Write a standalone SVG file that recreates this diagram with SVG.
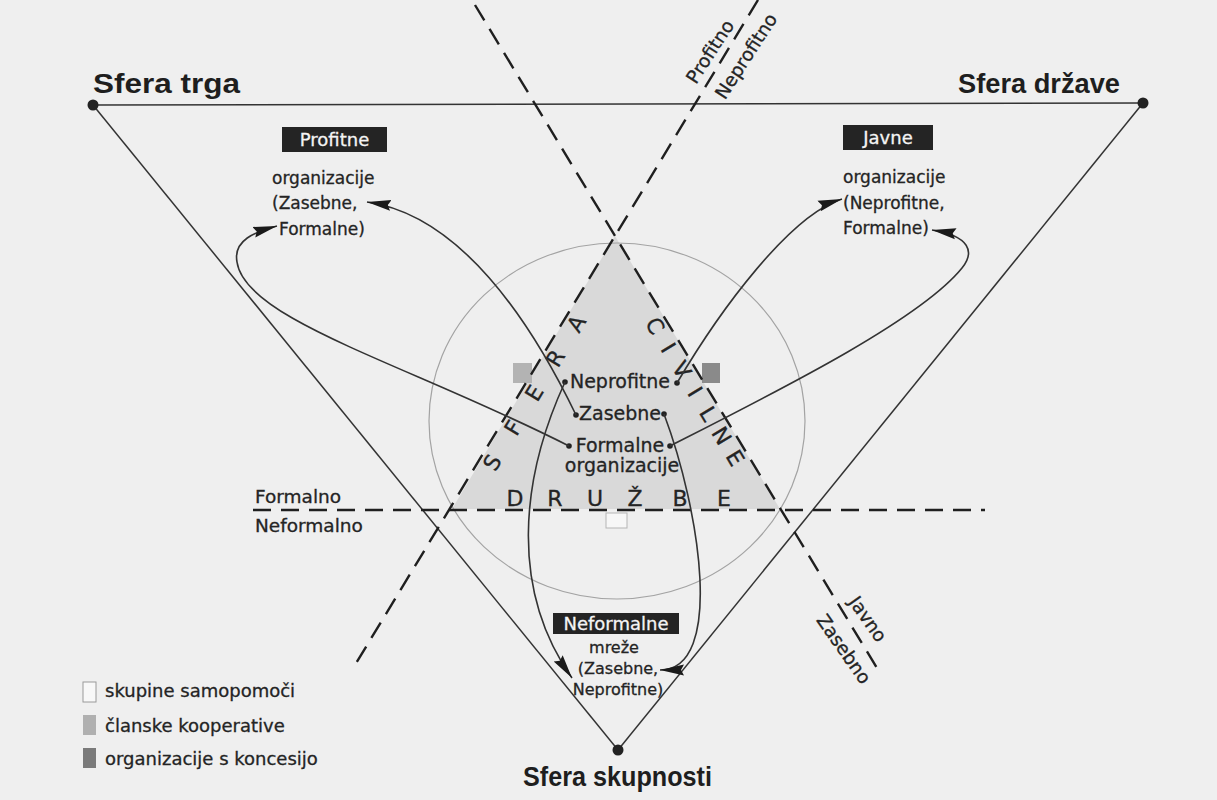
<svg xmlns="http://www.w3.org/2000/svg" width="1217" height="800" viewBox="0 0 1217 800">
<style>
  text { font-family: "DejaVu Sans", "Liberation Sans", sans-serif; fill: #242424; stroke: #242424; stroke-width: 0.3; }
  .title { font-family: "Liberation Sans", Arial, sans-serif; font-weight: bold; font-size: 27px; fill: #1e1e1e; stroke: none; }
  .lbl { font-size: 17px; }
  .sm { font-size: 16px; text-anchor: middle; }
  .box { fill: #242424; }
  .boxt { fill: #f4f4f4; stroke: #f4f4f4; font-size: 18px; text-anchor: middle; }
  .ctr { font-size: 19px; text-anchor: middle; }
  .axis { stroke: #1f1f1f; stroke-width: 2.4; stroke-dasharray: 18 10; fill: none; }
  .edge { stroke: #333; stroke-width: 1.5; fill: none; }
  .conn { stroke: #333; stroke-width: 1.6; fill: none; marker-end: url(#ah); }
  .letter { font-size: 22px; text-anchor: middle; dominant-baseline: central; }
  .axl { font-size: 18.5px; text-anchor: middle; dominant-baseline: central; }
  .dot { fill: #222; }
  .leg { font-size: 18px; }
</style>
<defs>
  <marker id="ah" markerUnits="userSpaceOnUse" markerWidth="26" markerHeight="13" refX="24" refY="6" orient="auto">
    <path d="M0,0.5 L24,6 L0,11.5 L3,6 Z" fill="#1a1a1a"/>
  </marker>
</defs>
<rect x="0" y="0" width="1217" height="800" fill="#efefef"/>

<g id="civil-society-area">
  <polygon points="615,236 452,509 780,509" fill="#d9d9d9"/>
  <ellipse cx="617" cy="421" rx="188" ry="178" fill="none" stroke="#a3a3a3" stroke-width="1.2"/>
  <rect x="513" y="363" width="19" height="20" fill="#b3b3b3"/>
  <rect x="702" y="363" width="18" height="20" fill="#8a8a8a"/>
  <rect x="606" y="513" width="21" height="15" fill="#f7f7f7" stroke="#b5b5b5" stroke-width="1"/>
</g>

<g id="outer-triangle">
  <line class="edge" x1="93" y1="105" x2="1143" y2="103"/>
  <line class="edge" x1="93" y1="105" x2="618" y2="750"/>
  <line class="edge" x1="1143" y1="103" x2="618" y2="750"/>
</g>

<g id="axes">
  <line class="axis" x1="475" y1="5" x2="880" y2="673"/>
  <line class="axis" x1="758" y1="0" x2="355" y2="665"/>
  <line class="axis" x1="253" y1="510" x2="985" y2="510"/>
  <text class="axl" transform="translate(710,51.5) rotate(-57)">Profitno</text>
  <text class="axl" transform="translate(746,56) rotate(-57)">Neprofitno</text>
  <text class="axl" transform="translate(868,619) rotate(55)">Javno</text>
  <text class="axl" transform="translate(844,649) rotate(55)">Zasebno</text>
  <text x="255" y="503" style="font-size:18.5px">Formalno</text>
  <text x="255" y="532" style="font-size:18.5px">Neformalno</text>
</g>

<g id="sfera-civilne-druzbe">
  <text class="letter" transform="translate(492.4,462.6) rotate(-58.8)">S</text>
  <text class="letter" transform="translate(513.4,427.9) rotate(-58.8)">F</text>
  <text class="letter" transform="translate(534.4,393.2) rotate(-58.8)">E</text>
  <text class="letter" transform="translate(555.5,358.4) rotate(-58.8)">R</text>
  <text class="letter" transform="translate(576.5,323.7) rotate(-58.8)">A</text>
  <text class="letter" transform="translate(654.8,325.9) rotate(58.8)">C</text>
  <text class="letter" transform="translate(668.1,347.9) rotate(58.8)">I</text>
  <text class="letter" transform="translate(681.5,369.9) rotate(58.8)">V</text>
  <text class="letter" transform="translate(694.8,391.9) rotate(58.8)">I</text>
  <text class="letter" transform="translate(708.2,413.9) rotate(58.8)">L</text>
  <text class="letter" transform="translate(721.5,435.9) rotate(58.8)">N</text>
  <text class="letter" transform="translate(734.9,458) rotate(58.8)">E</text>
  <text class="letter" x="515" y="498">D</text>
  <text class="letter" x="555" y="498">R</text>
  <text class="letter" x="595" y="498">U</text>
  <text class="letter" x="635" y="498">Ž</text>
  <text class="letter" x="680" y="498">B</text>
  <text class="letter" x="724" y="498">E</text>
</g>

<g id="node-center">
  <text class="ctr" x="620" y="388">Neprofitne</text>
  <text class="ctr" x="620" y="420">Zasebne</text>
  <text class="ctr" x="620" y="452">Formalne</text>
  <text class="ctr" x="622" y="472">organizacije</text>
  <circle class="dot" cx="565" cy="382" r="2.8"/>
  <circle class="dot" cx="677" cy="383" r="2.8"/>
  <circle class="dot" cx="576" cy="415" r="2.8"/>
  <circle class="dot" cx="664" cy="414" r="2.8"/>
  <circle class="dot" cx="569" cy="446" r="2.8"/>
  <circle class="dot" cx="670" cy="446" r="2.8"/>
</g>

<g id="node-sfera-trga">
  <circle class="dot" cx="93" cy="105" r="5.5"/>
  <text class="title" x="93" y="93" textLength="147" lengthAdjust="spacingAndGlyphs">Sfera trga</text>
</g>
<g id="node-sfera-drzave">
  <circle class="dot" cx="1143" cy="103" r="5.5"/>
  <text class="title" x="958" y="93" textLength="162" lengthAdjust="spacingAndGlyphs">Sfera države</text>
</g>
<g id="node-sfera-skupnosti">
  <circle class="dot" cx="618" cy="750" r="5.5"/>
  <text class="title" x="523" y="786" textLength="189" lengthAdjust="spacingAndGlyphs">Sfera skupnosti</text>
</g>

<g id="node-profitne">
  <rect class="box" x="282" y="127" width="105" height="25"/>
  <text class="boxt" x="334.5" y="146">Profitne</text>
  <text class="lbl" x="272" y="184">organizacije</text>
  <text class="lbl" x="272" y="209">(Zasebne,</text>
  <text class="lbl" x="279" y="235">Formalne)</text>
</g>
<g id="node-javne">
  <rect class="box" x="843" y="125" width="90" height="25"/>
  <text class="boxt" x="888" y="144">Javne</text>
  <text class="lbl" x="843" y="183">organizacije</text>
  <text class="lbl" x="843" y="209">(Neprofitne,</text>
  <text class="lbl" x="843" y="234">Formalne)</text>
</g>
<g id="node-neformalne">
  <rect class="box" x="553" y="613" width="126" height="21"/>
  <text class="boxt" x="616" y="630">Neformalne</text>
  <text class="sm" x="614" y="653">mreže</text>
  <text class="sm" x="618" y="674">(Zasebne,</text>
  <text class="sm" x="618" y="695">Neprofitne)</text>
</g>

<g id="connectors">
  <path class="conn" d="M565,382 C520,480 510,590 572,678"/>
  <path class="conn" d="M664,414 C700,510 725,670 660,670"/>
  <path class="conn" d="M576,415 C530,320 460,215 367,202"/>
  <path class="conn" d="M569,446 C410,365 245,320 237,262 C233,240 255,232 277,226"/>
  <path class="conn" d="M670,446 C780,390 920,320 962,268 C975,252 970,236 932,230"/>
  <path class="conn" d="M677,383 C720,310 790,215 842,199"/>
</g>

<g id="legend">
  <rect x="83" y="682" width="13" height="20" fill="#f8f8f8" stroke="#9a9a9a" stroke-width="1"/>
  <rect x="83" y="715" width="13" height="20" fill="#b0b0b0"/>
  <rect x="83" y="748" width="13" height="20" fill="#7a7a7a"/>
  <text class="leg" x="105" y="697">skupine samopomoči</text>
  <text class="leg" x="105" y="732">članske kooperative</text>
  <text class="leg" x="105" y="765">organizacije s koncesijo</text>
</g>
</svg>
